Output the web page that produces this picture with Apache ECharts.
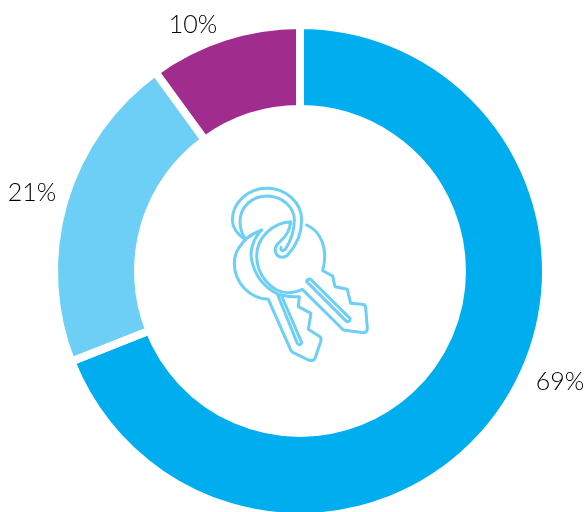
<!DOCTYPE html>
<html><head><meta charset="utf-8">
<style>html,body{margin:0;padding:0;background:#fff}#c{width:587px;height:512px}</style>
<script src="https://cdn.jsdelivr.net/npm/echarts@6/dist/echarts.min.js"></script>
</head><body><div id="c"></div>
<script>
const categories = ['A', 'B', 'C'];
const shareValues = [69, 21, 10];
const sliceColors = ['#00aeef', '#6dcff6', '#a02c8e'];
const labelSpots = [[560, 382], [32, 193], [193, 25]];

const ringPath = 'M137,210 C115,195 97,175 97,150 C97,98 144,55 201,55 C258,55 305,98 305,150 C305,195 285,230 265,253 C255,265 235,265 228,250 C222,238 228,225 240,215 C258,200 270,180 272,155 C215,158 170,205 170,258 C170,315 215,368 265,368 C280,368 295,363 307,358 L430,480 L490,488 Q502,488 502,475 L497,412 Q495,403 485,403 L452,400 L442,358 L405,350 L398,318 L368,302 C385,240 365,185 320,165';
const ringInner = 'M135,205 C125,190 120,170 120,155 C120,112 155,78 201,78 C247,78 283,112 283,150 C283,185 270,215 258,235 C252,245 240,243 243,232';
const backKey = 'M137,207 Q158,190 185,180 C155,210 150,250 155,270 C165,320 190,350 232,372 Q265,382 298,380 L295,410 L333,430 L325,478 L360,500 Q365,505 362,515 L345,565 Q340,575 325,570 L280,548 Q272,543 270,535 L205,388 C150,385 103,340 103,280 C103,260 110,240 123,225 L137,207';
const slotA = 'M320,335 Q322,325 332,328 L450,445 Q452,455 440,455 Z';
const slotB = 'M232,372 L292,520 Q300,530 305,518 L245,378';

const iconParts = [ringPath, ringInner, backKey, slotA, slotB];
iconParts.forEach((d, i) => {
  echarts.graphic.registerShape('keyPart' + i, echarts.graphic.extendPath(d, {}));
});

const chart = echarts.init(document.getElementById('c'), null, {renderer: 'canvas'});
chart.setOption({
  animation: false,
  series: [{
    type: 'pie',
    center: [300, 271],
    radius: [162, 246],
    startAngle: 90,
    clockwise: true,
    silent: true,
    avoidLabelOverlap: false,
    itemStyle: {borderColor: '#fff', borderWidth: 8},
    label: {
      show: true,
      position: 'inside',
      overflow: 'none',
      formatter: p => p.value + '%',
      fontFamily: 'Lato, "Open Sans", sans-serif',
      fontWeight: 300,
      fontSize: 25,
      color: '#000'
    },
    labelLine: {show: false},
    labelLayout: p => ({
      x: labelSpots[p.dataIndex][0],
      y: labelSpots[p.dataIndex][1],
      align: 'center',
      verticalAlign: 'middle'
    }),
    data: categories.map((n, i) => ({
      name: n, value: shareValues[i], itemStyle: {color: sliceColors[i]}
    }))
  }],
  graphic: [{
    type: 'group',
    x: 200, y: 170, scaleX: 1 / 3, scaleY: 1 / 3,
    children: iconParts.map((d, i) => ({
      type: 'keyPart' + i,
      style: {fill: null, stroke: '#6dcff6', lineWidth: 9, lineJoin: 'round', lineCap: 'round'}
    }))
  }]
});
</script></body></html>
